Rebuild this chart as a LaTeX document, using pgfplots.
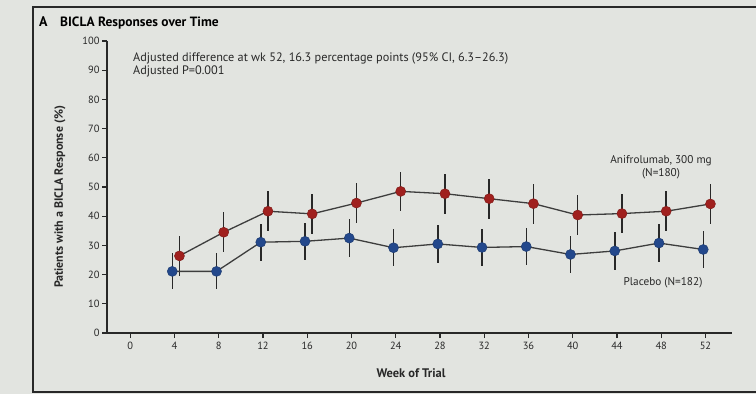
\documentclass[border=0pt]{standalone}
\usepackage{fontspec}
\setmainfont{PT Sans}
\usepackage{pgfplots}
\usepackage{pgfplotstable}
\pgfplotsset{compat=1.18}
\definecolor{bg}{RGB}{226,228,224}
\definecolor{redm}{RGB}{160,32,30}
\definecolor{bluem}{RGB}{35,72,140}
\definecolor{ink}{RGB}{40,40,40}
\pgfplotstableread{
x y e
4.45 26.4 6.8
8.45 34.5 6.8
12.45 41.7 6.8
16.45 40.8 6.8
20.45 44.5 6.8
24.45 48.5 6.8
28.45 47.7 6.8
32.45 46.0 6.8
36.45 44.3 6.8
40.45 40.4 6.8
44.45 40.9 6.8
48.45 41.7 6.8
52.45 44.2 6.8
}\anifro
\pgfplotstableread{
x y e
3.8 21.1 6.2
7.8 21.1 6.2
11.8 31.1 6.4
15.8 31.4 6.4
19.8 32.5 6.4
23.8 29.2 6.4
27.8 30.5 6.4
31.8 29.3 6.4
35.8 29.6 6.4
39.8 26.9 6.4
43.8 28.1 6.4
47.8 30.8 6.4
51.8 28.6 6.4
}\placebo
\begin{document}
\begin{tikzpicture}[x=1bp,y=1bp]
\fill[bg] (0,0) rectangle (756,394);
\useasboundingbox (0,0) rectangle (756,394);
\draw[ink, line width=1.3bp] (756,387) -- (33,387) -- (33,2) -- (756,2);
\node[anchor=west, font=\fontsize{14}{16}\selectfont\bfseries, inner sep=0] at (39,372) {A};
\node[anchor=west, font=\fontsize{13.5}{16}\selectfont\bfseries, inner sep=0] at (60,371) {BICLA Responses over Time};
\begin{axis}[
  at={(107bp,61bp)}, anchor=south west,
  scale only axis, width=625bp, height=292bp,
  xmin=-2.1, xmax=54.4, ymin=0, ymax=100,
  axis x line=bottom, axis y line=left,
  axis line style={ink, line width=1.2bp, -},
  xtick={0,4,...,52}, ytick={0,10,...,100},
  tick align=outside, major tick length=5bp,
  tick style={ink, line width=1.1bp},
  tick label style={font=\fontsize{10.5}{12}\selectfont, text=ink},
  xticklabel style={yshift=-1bp},
  yticklabel style={xshift=1bp},
  /pgf/number format/assume math mode=true,
  clip=false,
]
\addplot[color=ink!90, line width=1.3bp, mark=*, mark size=5bp,
  mark options={fill=redm, draw=redm!80!black, line width=0.5bp},
  error bars/.cd, y dir=both, y explicit, error mark=none,
  error bar style={ink, line width=1.5bp}]
  table[x=x, y=y, y error=e] {\anifro};
\addplot[color=ink!90, line width=1.3bp, mark=*, mark size=5bp,
  mark options={fill=bluem, draw=bluem!80!black, line width=0.5bp},
  error bars/.cd, y dir=both, y explicit, error mark=none,
  error bar style={ink, line width=1.5bp}]
  table[x=x, y=y, y error=e] {\placebo};
\end{axis}
\node[rotate=90, font=\fontsize{12}{14}\selectfont\bfseries, text=ink, inner sep=0] at (60,197) {Patients with a BICLA Response (\%)};
\node[font=\fontsize{12.5}{14}\selectfont\bfseries, text=ink, inner sep=0] at (411,21) {Week of Trial};
\node[anchor=west, font=\fontsize{12.3}{14}\selectfont, text=ink, inner sep=0] at (133,336) {Adjusted difference at wk 52, 16.3 percentage points (95\% CI, 6.3–26.3)};
\node[anchor=west, font=\fontsize{12.3}{14}\selectfont, text=ink, inner sep=0] at (133,323) {Adjusted P=0.001};
\node[font=\fontsize{11.3}{13.5}\selectfont, text=ink, align=center, inner sep=0] at (661,227) {Anifrolumab, 300 mg\\(N=180)};
\node[font=\fontsize{11.3}{13}\selectfont, text=ink, inner sep=0] at (663,111) {Placebo (N=182)};
\end{tikzpicture}
\end{document}
